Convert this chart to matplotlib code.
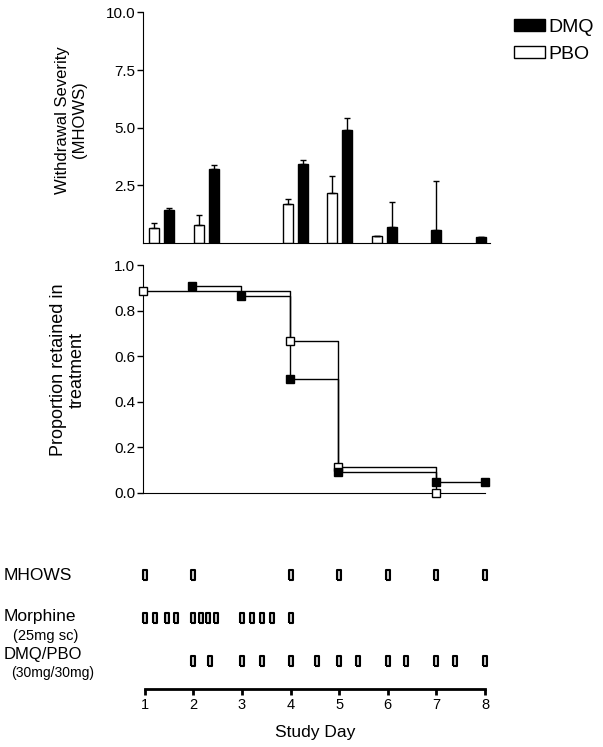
import numpy as np
import matplotlib
matplotlib.use("Agg")
import matplotlib.pyplot as plt
from matplotlib.patches import Patch

plt.rcParams['font.family'] = ['Liberation Sans', 'DejaVu Sans']

# ---- withdrawal severity (MHOWS), mean and upper error ----
pbo_days = [1, 2, 4, 5, 6]
pbo_mean = [0.65, 0.75, 1.70, 2.18, 0.27]
pbo_err = [0.20, 0.44, 0.18, 0.71, 0.0]
dmq_days = [1, 2, 4, 5, 6, 7, 8]
dmq_mean = [1.42, 3.18, 3.42, 4.90, 0.69, 0.57, 0.24]
dmq_err = [0.09, 0.20, 0.16, 0.53, 1.06, 2.10, 0.0]

# ---- proportion retained in treatment (step curves) ----
pbo_ret_days = [1, 4, 5, 7]
pbo_retained = [0.889, 0.667, 0.111, 0.0]
dmq_ret_days = [2, 3, 4, 5, 7, 8]
dmq_retained = [0.909, 0.864, 0.5, 0.091, 0.045, 0.045]

# ---- schedule of events ----
mhows_times = [1, 2, 4, 5, 6, 7, 8]
morphine_times = [1.0, 1.21, 1.45, 1.65, 2.0, 2.15, 2.3, 2.47, 3.0, 3.21, 3.42, 3.61, 4.0]
drug_times = [2.0, 2.35, 3.0, 3.42, 4.0, 4.55, 5.0, 5.38, 6.0, 6.38, 7.0, 7.38, 8.0]
study_days = [1, 2, 3, 4, 5, 6, 7, 8]

fig = plt.figure(figsize=(6.03, 7.47), dpi=100)

# ==========================================
#  Top panel: bars
# ==========================================
ax1 = fig.add_axes([0.2371, 0.6751, 0.5761, 0.3082])
bar_w = 0.225
ax1.bar(np.array(pbo_days) - 0.337, pbo_mean, width=bar_w, color='white',
        edgecolor='black', linewidth=1.0, yerr=[np.zeros(len(pbo_err)), pbo_err],
        error_kw=dict(ecolor='black', elinewidth=1.0, capsize=2.5, capthick=1.0))
ax1.bar(dmq_days, dmq_mean, width=bar_w, color='black',
        edgecolor='black', linewidth=1.0, yerr=[np.zeros(len(dmq_err)), dmq_err],
        error_kw=dict(ecolor='black', elinewidth=1.0, capsize=2.5, capthick=1.0))
ax1.set_xlim(0.411, 8.216)
ax1.set_ylim(0, 10)
ax1.set_yticks([2.5, 5.0, 7.5, 10.0])
ax1.set_yticklabels(['2.5', '5.0', '7.5', '10.0'], fontsize=11)
ax1.set_xticks([])
for s in ['top', 'right']:
    ax1.spines[s].set_visible(False)
ax1.tick_params(axis='y', direction='out', length=4.5, width=1.0, pad=1)

handles = [Patch(facecolor='black', edgecolor='black'),
           Patch(facecolor='white', edgecolor='black')]
fig.legend(handles, ['DMQ', 'PBO'], loc='upper left',
           bbox_to_anchor=(514 / 603, 1 - 19 / 747), frameon=False, fontsize=14,
           handlelength=1.6, handleheight=0.6, handletextpad=0.15,
           labelspacing=0.5, borderpad=0, borderaxespad=0)

fig.text(71 / 603, 1 - 120 / 747, 'Withdrawal Severity\n(MHOWS)', rotation=90,
         ha='center', va='center', multialignment='center', fontsize=12,
         linespacing=1.1)

# ==========================================
#  Middle panel: retention
# ==========================================
ax2 = fig.add_axes([0.2371, 0.3404, 0.5672, 0.3044])
ax2.step(pbo_ret_days, pbo_retained, where='post', color='black', linewidth=1.0,
         clip_on=False)
ax2.step(dmq_ret_days, dmq_retained, where='post', color='black', linewidth=1.0,
         clip_on=False)
ax2.plot(pbo_ret_days, pbo_retained, linestyle='none', marker='s', markersize=5.5,
         markerfacecolor='white', markeredgecolor='black', markeredgewidth=1.0,
         clip_on=False, zorder=3)
ax2.plot(dmq_ret_days, dmq_retained, linestyle='none', marker='s', markersize=5.5,
         markerfacecolor='black', markeredgecolor='black', clip_on=False, zorder=4)
ax2.set_xlim(1, 8)
ax2.set_ylim(0, 1.0)
ax2.set_yticks([0.0, 0.2, 0.4, 0.6, 0.8, 1.0])
ax2.set_yticklabels(['0.0', '0.2', '0.4', '0.6', '0.8', '1.0'], fontsize=11)
ax2.set_xticks([])
for s in ['top', 'right']:
    ax2.spines[s].set_visible(False)
ax2.tick_params(axis='y', direction='out', length=4.5, width=1.0, pad=1)

fig.text(68 / 603, 1 - 370 / 747, 'Proportion retained in\ntreatment', rotation=90,
         ha='center', va='center', multialignment='center', fontsize=13,
         linespacing=1.1)

# ==========================================
#  Bottom panel: schedule
# ==========================================
ax3 = fig.add_axes([0.24, 0.0776, 0.5643, 0.1727])
mark = [(-0.22, -0.5), (0.22, -0.5), (0.22, 0.5), (-0.22, 0.5), (-0.22, -0.5)]
rows = [(3, mhows_times), (2, morphine_times), (1, drug_times)]
for row_y, times in rows:
    ax3.plot(times, [row_y] * len(times), linestyle='none', marker=mark,
             markersize=7.5, markerfacecolor='#d0d0d0', markeredgecolor='black',
             markeredgewidth=1.5, clip_on=False)
ax3.set_xlim(1, 8)
ax3.set_ylim(0.337, 3.337)
ax3.set_yticks([])
ax3.set_xticks(study_days)
ax3.set_xticklabels([str(d) for d in study_days], fontsize=10.5)
for s in ['top', 'right', 'left']:
    ax3.spines[s].set_visible(False)
ax3.spines['bottom'].set_linewidth(2.0)
ax3.tick_params(axis='x', direction='out', length=4.5, width=2.0, pad=2)
ax3.set_xlabel('Study Day', fontsize=12.5, labelpad=9)

fig.text(4 / 603, 1 - 575 / 747, 'MHOWS', ha='left', va='center', fontsize=12.5)
fig.text(4 / 603, 1 - 617 / 747, 'Morphine', ha='left', va='center', fontsize=12.5)
fig.text(13 / 603, 1 - 636 / 747, '(25mg sc)', ha='left', va='center', fontsize=10.5)
fig.text(4 / 603, 1 - 654 / 747, 'DMQ/PBO', ha='left', va='center', fontsize=12)
fig.text(11 / 603, 1 - 673 / 747, '(30mg/30mg)', ha='left', va='center', fontsize=10)

fig.savefig('out.png', dpi=100)
